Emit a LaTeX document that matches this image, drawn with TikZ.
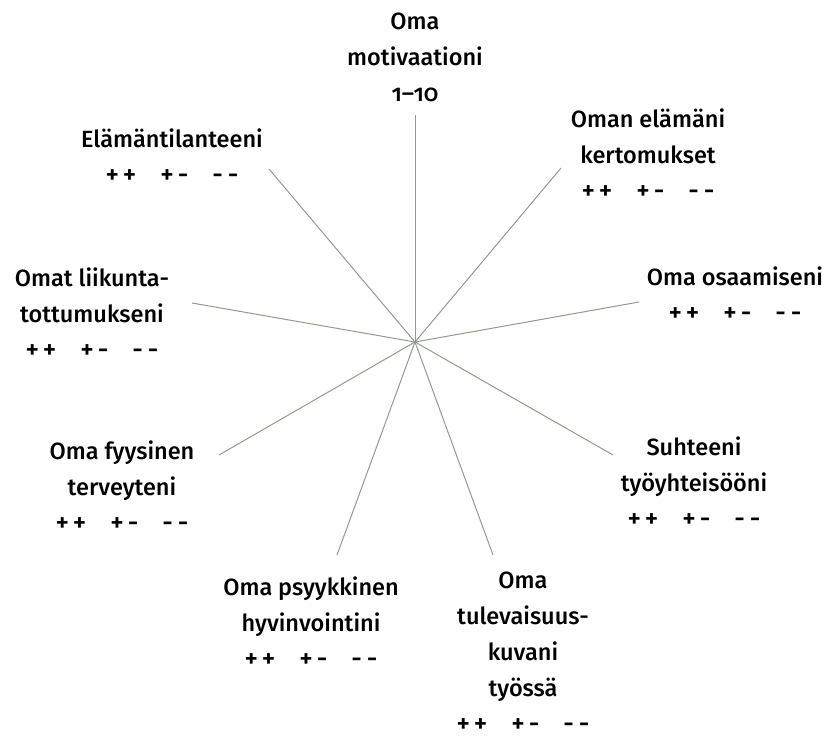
\documentclass[tikz,border=0pt]{standalone}
\usepackage{fontspec}
\setmainfont{Fira Sans}[UprightFont={* Medium}, Numbers=OldStyle]
\newcommand{\ratingrow}{{\fontsize{26}{36}\selectfont
  +\kern4pt+\kern24pt+\kern4pt-\kern24pt-\kern5pt-}}
\begin{document}
\begin{tikzpicture}[
    x=1pt, y=-1pt,
    labelnode/.style={align=center, anchor=base, inner sep=0pt,
      font=\fontsize{23.5}{36}\selectfont},
    spoke/.style={draw=spokegray, line width=1pt},
]
\definecolor{spokegray}{RGB}{146,154,142}
\useasboundingbox (0,0) rectangle (832,738);

\coordinate (hub) at (415,342);

% labels (anchored at the baseline of the last line)
\node[labelnode] (motiv) at (415,102) {Oma\\motivaationi\\1--10};
\node[labelnode] (elama) at (172,184) {Elämäntilanteeni\\\ratingrow};
\node[labelnode] (kertom) at (648,200) {Oman elämäni\\kertomukset\\\ratingrow};
\node[labelnode] (liikunta) at (92,358) {Omat liikunta-\\tottumukseni\\\ratingrow};
\node[labelnode] (osaam) at (735,321) {Oma osaamiseni\\\ratingrow};
\node[labelnode] (fyys) at (122,531) {Oma fyysinen\\terveyteni\\\ratingrow};
\node[labelnode] (suhde) at (694,527) {Suhteeni\\työyhteisööni\\\ratingrow};
\node[labelnode] (psyyk) at (311,667) {Oma psyykkinen\\hyvinvointini\\\ratingrow};
\node[labelnode] (tulev) at (523,732) {Oma\\tulevaisuus-\\kuvani\\työssä\\\ratingrow};

% spoke ends
\coordinate (e-motiv) at (415,115);
\coordinate (e-elama) at (269,169);
\coordinate (e-kertom) at (561,168);
\coordinate (e-liikunta) at (192,303);
\coordinate (e-osaam) at (639,302);
\coordinate (e-fyys) at (219,455);
\coordinate (e-suhde) at (613,455);
\coordinate (e-psyyk) at (337,555);
\coordinate (e-tulev) at (493,555);

\foreach \n in {motiv,elama,kertom,liikunta,osaam,fyys,suhde,psyyk,tulev}
  \draw[spoke] (hub) -- (e-\n);

\end{tikzpicture}
\end{document}
